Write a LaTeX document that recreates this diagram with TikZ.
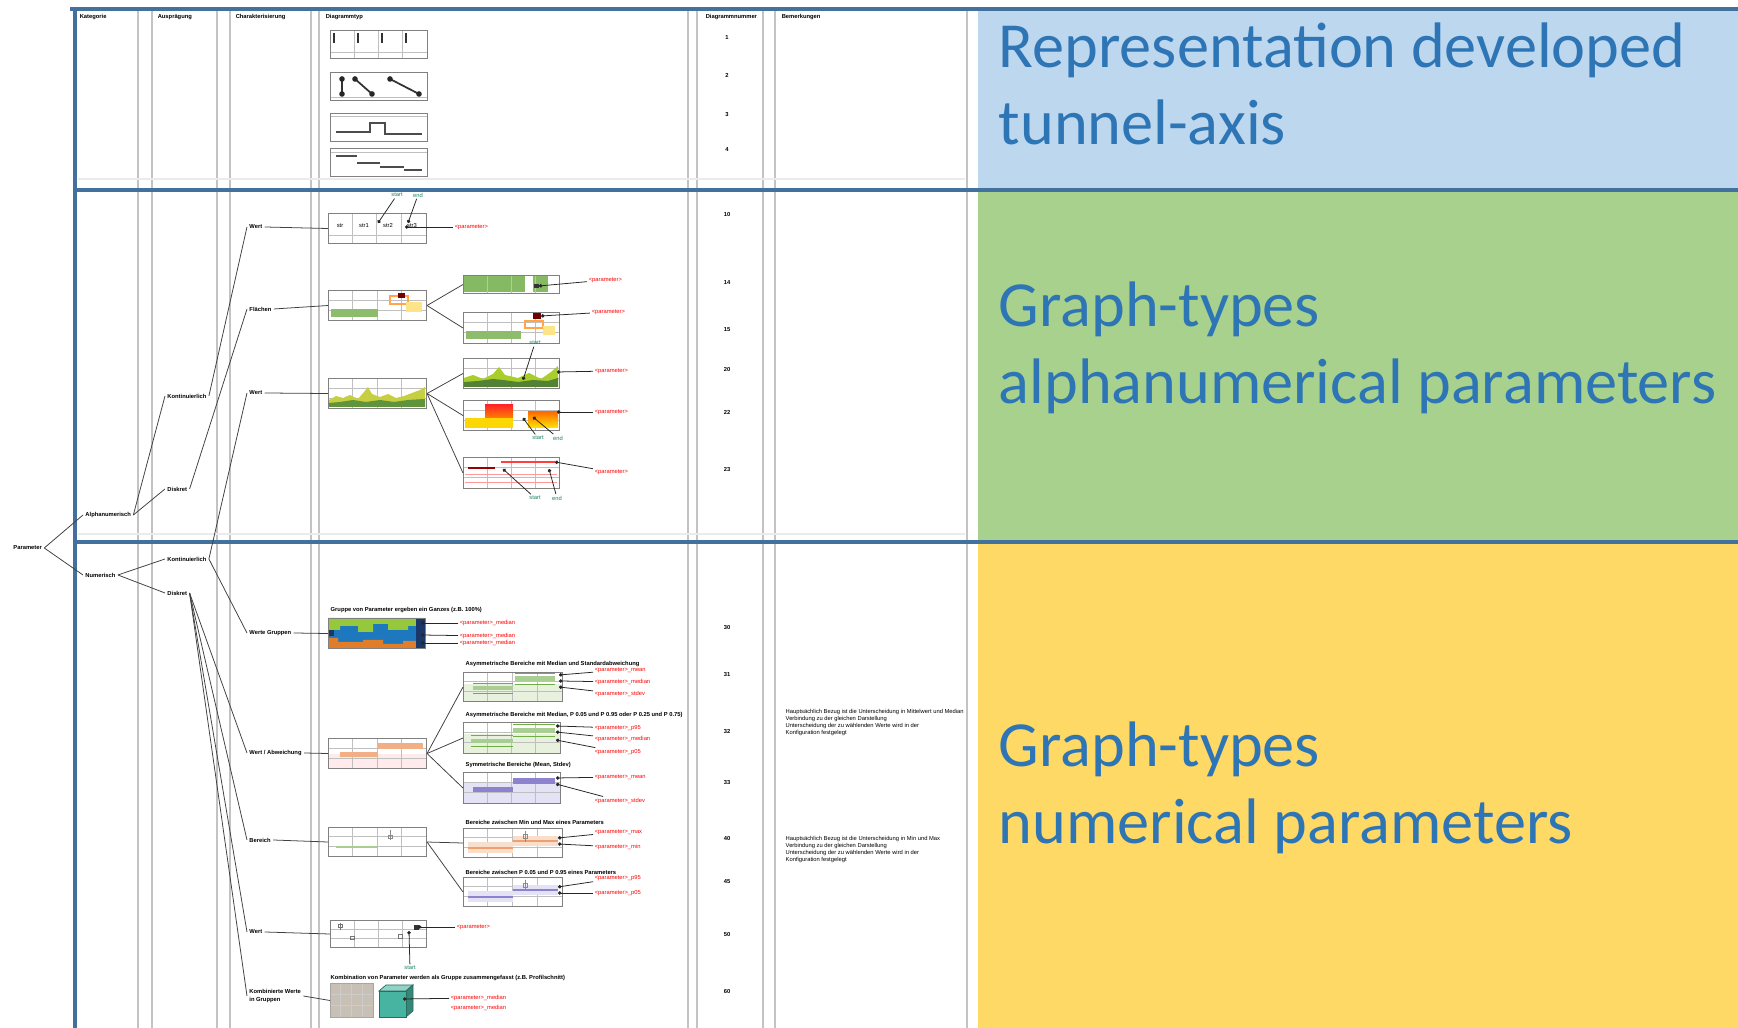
\documentclass[tikz,border=0pt]{standalone}
\usepackage{fontspec}
\setmainfont{Carlito}
\newfontfamily\arialf{Liberation Sans}
\usetikzlibrary{arrows.meta}
\definecolor{frameblue}{RGB}{65,113,156}
\definecolor{titleblue}{RGB}{46,117,182}
\definecolor{panelblue}{RGB}{189,215,238}
\definecolor{panelgreen}{RGB}{169,209,142}
\definecolor{panelyellow}{RGB}{255,217,102}
\definecolor{colgray}{RGB}{195,195,195}
\definecolor{chartgreen}{RGB}{112,173,71}
\definecolor{lightgreen}{RGB}{214,232,200}
\definecolor{chartorange}{RGB}{240,160,110}
\definecolor{chartpurple}{RGB}{140,130,205}
\definecolor{lavender}{RGB}{228,226,245}
\definecolor{startgreen}{RGB}{30,130,100}
\definecolor{grpblue}{RGB}{30,120,190}
\definecolor{grpgreen}{RGB}{150,200,60}
\definecolor{grporange}{RGB}{225,125,40}
\definecolor{grpnavy}{RGB}{25,55,105}
\definecolor{teal3d}{RGB}{70,180,160}
\definecolor{paper}{RGB}{200,192,180}
\newcommand{\tinyf}{\arialf\fontsize{1.65}{2}\selectfont}
\newcommand{\pname}[1]{\textless parameter\textgreater#1}
\newcommand{\thumbgrid}[2]{%
  \foreach \gx in {0.25,0.5,0.75} {\draw[gridline] (\gx*#1,0) -- (\gx*#1,#2);}
  \foreach \gy in {0.33,0.66} {\draw[gridline] (0,\gy*#2) -- (#1,\gy*#2);}}
\tikzset{
  framebar/.style={frameblue, line width=1.4pt},
  colline/.style={colgray, line width=0.4pt},
  gridline/.style={black!25, line width=0.15pt},
  hdr/.style={font=\tinyf\bfseries, anchor=west, inner sep=0.3pt},
  lbl/.style={font=\tinyf\bfseries, anchor=west, inner sep=0.5pt},
  capt/.style={font=\tinyf\bfseries, anchor=west, inner sep=0pt},
  note/.style={font=\tinyf, align=left, anchor=north west, inner sep=0pt},
  nr/.style={font=\tinyf\bfseries, inner sep=0.2pt},
  redlbl/.style={font=\tinyf, text=red, anchor=west, inner sep=0.3pt},
  selbl/.style={font=\tinyf, text=startgreen, inner sep=0.3pt},
  thumb/.style={draw=black!50, line width=0.3pt, minimum width=9.7mm, minimum height=2.9mm, inner sep=0pt, anchor=north west},
  treeline/.style={black!75, line width=0.22pt},
  leader/.style={black!85, line width=0.22pt, -{Circle[length=0.35mm]}},
  bigtext/.style={font=\fontsize{18.3}{22}\selectfont, text=titleblue, anchor=base west, inner sep=0pt},
}

\begin{document}
\begin{tikzpicture}[x=0.1mm, y=-0.1mm]
\useasboundingbox (0,0) rectangle (1738,1028);

% coloured side panels
\fill[panelblue] (978,9) rectangle (1738,190);
\fill[panelgreen] (978,190) rectangle (1738,542);
\fill[panelyellow] (978,542) rectangle (1738,1028);

\foreach \cx in {138,152,217,230,311,319,688,697,763,775,967}
  \draw[colline] (\cx,11) -- (\cx,1028);
\draw[colline, black!8] (78,179) -- (965,179);
\draw[colline, black!8] (78,534) -- (965,534);

\draw[framebar] (70,9) -- (1738,9);
\draw[framebar] (75,190) -- (1738,190);
\draw[framebar] (75,542) -- (1738,542);
\draw[framebar] (75,7) -- (75,1028);

\node[bigtext] (t1a) at (998,68) {Representation developed};
\node[bigtext] (t1b) at (998,145) {tunnel-axis};
\node[bigtext] (t2a) at (998,327) {Graph-types};
\node[bigtext] (t2b) at (998,404) {alphanumerical parameters};
\node[bigtext] (t3a) at (998,767) {Graph-types};
\node[bigtext] (t3b) at (998,844) {numerical parameters};

\node[hdr] (hKat) at (78,17) {Kategorie};
\node[hdr] (hAus) at (156,17) {Ausprägung};
\node[hdr] (hCha) at (234,17) {Charakterisierung};
\node[hdr] (hTyp) at (324,17) {Diagrammtyp};
\node[hdr] (hNr) at (704,17) {Diagrammnummer};
\node[hdr] (hBem) at (780,17) {Bemerkungen};

\foreach \n/\ny in {1/38,2/75,3/115,4/150,10/215,14/283,15/330,20/370,22/412,23/470,30/628,31/675,32/732,33/783,40/839,45/882,50/935,60/992}
  \node[nr] (nr\n) at (727,\ny) {\n};

% tree
\node[lbl] (param) at (11,548) {Parameter};
\node[lbl] (alpha) at (83,515) {Alphanumerisch};
\node[lbl] (numer) at (83,575) {Numerisch};
\node[lbl] (kontA) at (165,396) {Kontinuierlich};
\node[lbl] (diskA) at (165,489) {Diskret};
\node[lbl] (kontN) at (165,559) {Kontinuierlich};
\node[lbl] (diskN) at (165,593) {Diskret};
\node[lbl] (wertA) at (247,227) {Wert};
\node[lbl] (flaeA) at (247,309) {Flächen};
\node[lbl] (wertB) at (247,393) {Wert};
\node[lbl] (gruppN) at (247,633) {Werte Gruppen};
\node[lbl] (abwN) at (247,753) {Wert / Abweichung};
\node[lbl] (berN) at (247,840) {Bereich};
\node[lbl] (wertN) at (247,932) {Wert};
\node[lbl, align=left] (kombN) at (247,996) {Kombinierte Werte\\in Gruppen};

\draw[treeline] (param.east) -- (alpha.west);
\draw[treeline] (param.east) -- (numer.west);
\draw[treeline] (alpha.east) -- (kontA.west);
\draw[treeline] (alpha.east) -- (diskA.west);
\draw[treeline] (numer.east) -- (kontN.west);
\draw[treeline] (numer.east) -- (diskN.west);
\draw[treeline] (kontA.east) -- (wertA.west);
\draw[treeline] (diskA.east) -- (flaeA.west);
\draw[treeline] (kontN.east) -- (wertB.west);
\draw[treeline] (kontN.east) -- (gruppN.west);
\draw[treeline] (diskN.east) -- (abwN.west);
\draw[treeline] (diskN.east) -- (berN.west);
\draw[treeline] (diskN.east) -- (wertN.west);
\draw[treeline] (diskN.east) -- (kombN.west);

% tunnel-axis diagrams
\begin{scope}[shift={(330,30)}]
  \foreach \gx in {24,48,72} {\draw[gridline] (\gx,0) -- (\gx,28);}
  \draw[gridline] (0,22) -- (97,22);
  \foreach \gx in {4,28,52,76} {\draw[black!80, line width=0.5pt] (\gx,3) -- (\gx,13);}
  \node[thumb, minimum height=2.8mm] (dA) at (0,0) {};
\end{scope}
\begin{scope}[shift={(330,72)}]
  \draw[gridline] (0,25) -- (97,25);
  \draw[black!80, line width=0.5pt] (12,7) -- (12,22) (25,7) -- (42,22) (60,7) -- (89,22);
  \foreach \p in {(12,7),(12,22),(25,7),(42,22),(60,7),(89,22)} {\fill[black!85] \p circle (0.28mm);}
  \node[thumb, minimum height=2.8mm] (dB) at (0,0) {};
\end{scope}
\begin{scope}[shift={(330,113)}]
  \draw[gridline] (0,3) -- (97,3);
  \draw[black!70, line width=0.3pt] (6,19) -- (40,19) -- (40,10) -- (55,10) -- (55,21) -- (92,21);
  \node[thumb, minimum height=2.8mm] (dC) at (0,0) {};
\end{scope}
\begin{scope}[shift={(330,148)}]
  \draw[gridline] (0,4) -- (97,4);
  \draw[black!70, line width=0.3pt] (6,8) -- (27,8) (27,15) -- (50,15) (50,19) -- (74,19) (74,22) -- (92,22);
  \node[thumb, minimum height=2.8mm] (dD) at (0,0) {};
\end{scope}

% alphanumerical diagrams
\begin{scope}[shift={(328,213)}]
  \foreach \gx in {24,48,73} {\draw[gridline] (\gx,0) -- (\gx,30);}
  \draw[gridline] (0,22) -- (98,22);
  \foreach \gx/\s in {12/str,36/str1,60/str2,84/str3} {\node[nr, font=\tinyf] (c10\gx) at (\gx,13) {\s};}
  \node[thumb, minimum width=9.8mm, minimum height=3mm] (d10) at (0,0) {};
  \coordinate (p10s) at (50,10);
  \coordinate (p10e) at (80,10);
  \coordinate (p10p) at (77,14);
\end{scope}
\node[selbl] (s10) at (397,195) {start};
\node[selbl] (e10) at (418,195) {end};
\node[redlbl] (r10) at (453,227) {\pname{}};
\draw[leader] (s10) -- (p10s);
\draw[leader] (e10) -- (p10e);
\draw[leader] (r10) -- (p10p);
\draw[treeline] (wertA.east) -- (d10.west);

\begin{scope}[shift={(328,290)}]
  \thumbgrid{98}{30}
  \fill[chartgreen!80] (3,19) rectangle (50,27);
  \draw[orange!70, line width=0.3pt] (62,6) rectangle (80,14);
  \fill[yellow!60!orange!45] (78,12) rectangle (94,22);
  \fill[red!45!black] (70,3) rectangle (77,8);
  \node[thumb, minimum width=9.8mm, minimum height=3mm] (d14) at (0,0) {};
\end{scope}
\draw[treeline] (flaeA.east) -- (d14.west);

\begin{scope}[shift={(463,275)}]
  \fill[chartgreen!85] (1,1) rectangle (62,17);
  \fill[chartgreen!85] (70,1) rectangle (85,17);
  \foreach \gx in {24,48,72} {\draw[gridline] (\gx,0) -- (\gx,18);}
  \fill[black!80] (71,9) rectangle (76,13);
  \node[thumb, minimum width=9.6mm, minimum height=1.8mm] (d15a) at (0,0) {};
  \coordinate (p15a) at (76,11);
\end{scope}
\begin{scope}[shift={(463,312)}]
  \thumbgrid{96}{31}
  \fill[chartgreen!80] (3,19) rectangle (58,27);
  \draw[orange!70, line width=0.3pt] (62,9) rectangle (80,16);
  \fill[yellow!60!orange!45] (80,14) rectangle (92,23);
  \fill[red!45!black] (70,1) rectangle (78,7);
  \node[thumb, minimum width=9.6mm, minimum height=3.1mm] (d15b) at (0,0) {};
  \coordinate (p15b) at (78,4);
\end{scope}
\node[redlbl] (r15a) at (587,280) {\pname{}};
\node[redlbl] (r15b) at (590,312) {\pname{}};
\draw[leader] (r15a) -- (p15a);
\draw[leader] (r15b) -- (p15b);
\draw[treeline] (d14.east) -- (d15a.west);
\draw[treeline] (d14.east) -- (d15b.west);

\begin{scope}[shift={(328,378)}]
  \thumbgrid{98}{30}
  \fill[yellow!55!chartgreen] (1,29) -- (1,22) -- (8,18) -- (15,20) -- (22,17) -- (30,21) -- (36,14) -- (40,9) -- (44,16) -- (52,19) -- (60,16) -- (68,20) -- (76,18) -- (84,15) -- (92,12) -- (97,9) -- (97,29) -- cycle;
  \fill[chartgreen!85!black] (1,29) -- (1,25) -- (12,24) -- (25,22) -- (38,24) -- (52,22) -- (66,24) -- (80,22) -- (97,21) -- (97,29) -- cycle;
  \node[thumb, minimum width=9.8mm, minimum height=3mm] (d20) at (0,0) {};
\end{scope}
\draw[treeline] (wertB.east) -- (d20.west);

\begin{scope}[shift={(463,358)}]
  \thumbgrid{96}{30}
  \fill[chartgreen!60!yellow] (1,29) -- (1,20) -- (10,17) -- (20,21) -- (30,16) -- (36,9) -- (42,17) -- (55,20) -- (66,15) -- (78,21) -- (88,14) -- (95,8) -- (95,29) -- cycle;
  \fill[chartgreen!75!black] (1,29) -- (1,24) -- (15,23) -- (30,21) -- (40,22) -- (55,24) -- (70,22) -- (85,23) -- (95,20) -- (95,29) -- cycle;
  \node[thumb, minimum width=9.6mm, minimum height=3mm] (d21) at (0,0) {};
  \coordinate (p21s) at (60,22);
  \coordinate (p21p) at (94,14);
\end{scope}
\node[selbl] (s21) at (535,343) {start};
\node[redlbl] (r21) at (593,371) {\pname{}};
\draw[leader] (s21) -- (p21s);
\draw[leader] (r21) -- (p21p);

\begin{scope}[shift={(463,400)}]
  \thumbgrid{96}{30}
  \fill[yellow!75!orange] (2,18) rectangle (50,28);
  \shade[top color=red!85, bottom color=orange] (22,5) rectangle (50,18);
  \shade[top color=orange!85!red, bottom color=yellow!80!orange] (65,12) rectangle (95,28);
  \node[thumb, minimum width=9.6mm, minimum height=3mm] (d22) at (0,0) {};
  \coordinate (p22s) at (60,18);
  \coordinate (p22e) at (70,17);
  \coordinate (p22p) at (94,12);
\end{scope}
\node[selbl] (s22) at (538,438) {start};
\node[selbl] (e22) at (558,438) {end};
\node[redlbl] (r22) at (593,412) {\pname{}};
\draw[leader] (s22) -- (p22s);
\draw[leader] (e22) -- (p22e);
\draw[leader] (r22) -- (p22p);

\begin{scope}[shift={(463,457)}]
  \thumbgrid{96}{31}
  \draw[red!40, line width=0.2pt] (2,17) -- (94,17) (2,25) -- (94,25);
  \draw[red!75, line width=0.6pt] (38,5) -- (92,5);
  \draw[red!60!black, line width=0.4pt] (5,11) -- (32,11);
  \node[thumb, minimum width=9.6mm, minimum height=3.1mm] (d23) at (0,0) {};
  \coordinate (p23s) at (40,12);
  \coordinate (p23e) at (86,12);
  \coordinate (p23p) at (92,5);
\end{scope}
\node[selbl] (s23) at (535,498) {start};
\node[selbl] (e23) at (557,498) {end};
\node[redlbl] (r23) at (593,472) {\pname{}};
\draw[leader] (s23) -- (p23s);
\draw[leader] (e23) -- (p23e);
\draw[leader] (r23) -- (p23p);
\draw[treeline] (d20.east) -- (d21.west);
\draw[treeline] (d20.east) -- (d22.west);
\draw[treeline] (d20.east) -- (d23.west);

% numerical diagrams
\node[capt] (cap30) at (330,610) {Gruppe von Parameter ergeben ein Ganzes (z.B. 100\%)};
\begin{scope}[shift={(328,618)}]
  \fill[grpblue] (0,0) rectangle (97,30);
  \fill[grpgreen] (0,0) -- (97,0) -- (97,8) -- (80,8) -- (80,12) -- (60,12) -- (60,6) -- (45,6) -- (45,14) -- (30,14) -- (30,8) -- (12,8) -- (12,12) -- (0,12) -- cycle;
  \fill[grporange] (0,30) -- (0,20) -- (10,20) -- (10,24) -- (35,24) -- (35,22) -- (55,22) -- (55,26) -- (75,26) -- (75,23) -- (88,23) -- (88,30) -- cycle;
  \fill[grpnavy] (0,12) rectangle (6,18);
  \fill[grpnavy] (88,0) rectangle (97,30);
  \node[thumb, minimum height=3mm] (d30) at (0,0) {};
  \coordinate (p30a) at (93,5);
  \coordinate (p30b) at (93,17);
  \coordinate (p30c) at (93,25);
\end{scope}
\node[redlbl] (r30a) at (458,623) {\pname{\_median}};
\node[redlbl] (r30b) at (458,636) {\pname{\_median}};
\node[redlbl] (r30c) at (458,643) {\pname{\_median}};
\draw[leader] (r30a) -- (p30a);
\draw[leader] (r30b) -- (p30b);
\draw[leader] (r30c) -- (p30c);
\draw[treeline] (gruppN.east) -- (d30.west);

\begin{scope}[shift={(328,738)}]
  \fill[red!8] (0,16) rectangle (98,30);
  \thumbgrid{98}{30}
  \fill[chartorange!85] (50,5) rectangle (95,11);
  \fill[chartorange!85] (12,14) rectangle (50,19);
  \node[thumb, minimum width=9.8mm, minimum height=3mm] (dAbw) at (0,0) {};
\end{scope}
\draw[treeline] (abwN.east) -- (dAbw.west);

\node[capt] (cap31) at (465,664) {Asymmetrische Bereiche mit Median und Standardabweichung};
\begin{scope}[shift={(463,672)}]
  \fill[lightgreen!60] (0,12) rectangle (99,29);
  \thumbgrid{99}{29}
  \fill[chartgreen!60] (52,4) rectangle (92,9);
  \fill[chartgreen!60] (10,14) rectangle (50,18);
  \draw[chartgreen, line width=0.2pt] (52,1) -- (92,1) (52,12) -- (92,12) (10,11) -- (50,11) (10,21) -- (50,21);
  \node[thumb, minimum width=9.9mm] (d31) at (0,0) {};
  \coordinate (p31a) at (96,3);
  \coordinate (p31b) at (96,9);
  \coordinate (p31c) at (96,15);
\end{scope}
\node[redlbl] (r31a) at (593,670) {\pname{\_mean}};
\node[redlbl] (r31b) at (593,682) {\pname{\_median}};
\node[redlbl] (r31c) at (593,694) {\pname{\_stdev}};
\draw[leader] (r31a) -- (p31a);
\draw[leader] (r31b) -- (p31b);
\draw[leader] (r31c) -- (p31c);

\node[capt] (cap32) at (465,715) {Asymmetrische Bereiche mit Median, P 0.05 und P 0.95 oder P 0.25 und P 0.75)};
\begin{scope}[shift={(463,722)}]
  \fill[lightgreen!60] (0,12) rectangle (97,31);
  \thumbgrid{97}{31}
  \fill[chartgreen!60] (50,6) rectangle (92,11);
  \fill[chartgreen!60] (8,17) rectangle (50,21);
  \draw[chartgreen, line width=0.2pt] (50,2) -- (92,2) (50,14) -- (92,14) (8,13) -- (50,13) (8,24) -- (50,24);
  \node[thumb, minimum height=3.1mm] (d32) at (0,0) {};
  \coordinate (p32a) at (93,4);
  \coordinate (p32b) at (93,10);
  \coordinate (p32c) at (93,18);
\end{scope}
\node[redlbl] (r32a) at (593,728) {\pname{\_p95}};
\node[redlbl] (r32b) at (593,739) {\pname{\_median}};
\node[redlbl] (r32c) at (593,752) {\pname{\_p05}};
\draw[leader] (r32a) -- (p32a);
\draw[leader] (r32b) -- (p32b);
\draw[leader] (r32c) -- (p32c);

\node[capt] (cap33) at (465,765) {Symmetrische Bereiche (Mean, Stdev)};
\begin{scope}[shift={(463,772)}]
  \fill[lavender] (0,10) rectangle (97,31);
  \thumbgrid{97}{31}
  \fill[chartpurple] (50,6) rectangle (92,12);
  \fill[chartpurple] (10,15) rectangle (50,20);
  \node[thumb, minimum height=3.1mm] (d33) at (0,0) {};
  \coordinate (p33a) at (93,6);
  \coordinate (p33b) at (93,12);
\end{scope}
\node[redlbl] (r33a) at (593,777) {\pname{\_mean}};
\node[redlbl] (r33b) at (593,801) {\pname{\_stdev}};
\draw[leader] (r33a) -- (p33a);
\draw[leader] (r33b) -- (p33b);
\draw[treeline] (dAbw.east) -- (d31.west);
\draw[treeline] (dAbw.east) -- (d32.west);
\draw[treeline] (dAbw.east) -- (d33.west);

\begin{scope}[shift={(328,827)}]
  \thumbgrid{98}{29}
  \draw[chartgreen!60, line width=0.3pt] (8,20) -- (50,20);
  \draw[black!45, line width=0.25pt] (62,3) -- (62,13) (60,8) rectangle (64,11);
  \node[thumb, minimum width=9.8mm] (dBer) at (0,0) {};
\end{scope}
\draw[treeline] (berN.east) -- (dBer.west);

\node[capt] (cap40) at (465,822) {Bereiche zwischen Min und Max eines Parameters};
\begin{scope}[shift={(463,828)}]
  \thumbgrid{99}{29}
  \fill[chartorange!35] (5,14) rectangle (50,25);
  \fill[chartorange!35] (50,8) rectangle (95,18);
  \draw[chartorange, line width=0.3pt] (5,20) -- (50,20) (50,13) -- (95,13);
  \draw[black!45, line width=0.25pt] (62,3) -- (62,14) (60,6) rectangle (64,10);
  \node[thumb, minimum width=9.9mm] (d40) at (0,0) {};
  \coordinate (p40a) at (95,10);
  \coordinate (p40b) at (95,16);
\end{scope}
\node[redlbl] (r40a) at (593,832) {\pname{\_max}};
\node[redlbl] (r40b) at (593,847) {\pname{\_min}};
\draw[leader] (r40a) -- (p40a);
\draw[leader] (r40b) -- (p40b);

\node[capt] (cap45) at (465,872) {Bereiche zwischen P 0.05 und P 0.95 eines Parameters};
\begin{scope}[shift={(463,877)}]
  \thumbgrid{99}{29}
  \fill[lavender] (5,14) rectangle (50,25);
  \fill[lavender] (50,8) rectangle (95,18);
  \draw[chartpurple, line width=0.3pt] (5,20) -- (50,20) (50,13) -- (95,13);
  \draw[black!45, line width=0.25pt] (62,3) -- (62,14) (60,6) rectangle (64,10);
  \node[thumb, minimum width=9.9mm] (d45) at (0,0) {};
  \coordinate (p45a) at (95,10);
  \coordinate (p45b) at (95,16);
\end{scope}
\node[redlbl] (r45a) at (593,878) {\pname{\_p95}};
\node[redlbl] (r45b) at (593,893) {\pname{\_p05}};
\draw[leader] (r45a) -- (p45a);
\draw[leader] (r45b) -- (p45b);
\draw[treeline] (dBer.east) -- (d40.west);
\draw[treeline] (dBer.east) -- (d45.west);

\begin{scope}[shift={(330,920)}]
  \thumbgrid{96}{27}
  \draw[black!55, line width=0.25pt] (10,3) -- (10,10) (8,4) rectangle (12,7);
  \draw[black!55, line width=0.25pt] (20,16) rectangle (24,19);
  \draw[black!55, line width=0.25pt] (68,14) rectangle (72,18);
  \fill[black!80] (84,5) rectangle (89,10);
  \node[thumb, minimum width=9.6mm, minimum height=2.7mm] (d50) at (0,0) {};
  \coordinate (p50s) at (79,11);
  \coordinate (p50p) at (88,7);
\end{scope}
\node[redlbl] (r50) at (455,927) {\pname{}};
\node[selbl] (s50) at (410,968) {start};
\draw[leader] (r50) -- (p50p);
\draw[leader] (s50) -- (p50s);
\draw[treeline] (wertN.east) -- (d50.west);

\node[capt] (cap60) at (330,978) {Kombination von Parameter werden als Gruppe zusammengefasst (z.B. Profilschnitt)};
\begin{scope}[shift={(330,983)}]
  \fill[paper] (0,0) rectangle (43,34);
  \foreach \gx in {10,21,32} {\draw[black!20, line width=0.15pt] (\gx,0) -- (\gx,34);}
  \foreach \gy in {11,22} {\draw[black!20, line width=0.15pt] (0,\gy) -- (43,\gy);}
  \node[thumb, draw=black!35, minimum width=4.3mm, minimum height=3.4mm] (d60a) at (0,0) {};
\end{scope}
\begin{scope}[shift={(379,985)}]
  \fill[teal3d!60!white, draw=teal3d!60!black, line width=0.2pt] (0,6) -- (7,0) -- (34,0) -- (27,6) -- cycle;
  \fill[teal3d!75!black, draw=teal3d!60!black, line width=0.2pt] (27,6) -- (34,0) -- (34,26) -- (27,32) -- cycle;
  \node[draw=teal3d!60!black, fill=teal3d, line width=0.2pt, minimum width=2.7mm, minimum height=2.6mm, inner sep=0pt, anchor=north west] (d60b) at (0,6) {};
  \coordinate (p60) at (24,14);
\end{scope}
\node[redlbl] (r60a) at (449,998) {\pname{\_median}};
\node[redlbl] (r60b) at (449,1008) {\pname{\_median}};
\draw[leader] (r60a) -- (p60);
\draw[treeline] (kombN.east) -- (d60a.west);

\node[note] (bem1) at (785,709) {Hauptsächlich Bezug ist die Unterscheidung in Mittelwert und Median\\Verbindung zu der gleichen Darstellung\\Unterscheidung der zu wählenden Werte wird in der\\Konfiguration festgelegt};
\node[note] (bem2) at (785,836) {Hauptsächlich Bezug ist die Unterscheidung in Min und Max\\Verbindung zu der gleichen Darstellung\\Unterscheidung der zu wählenden Werte wird in der\\Konfiguration festgelegt};
\end{tikzpicture}
\end{document}
